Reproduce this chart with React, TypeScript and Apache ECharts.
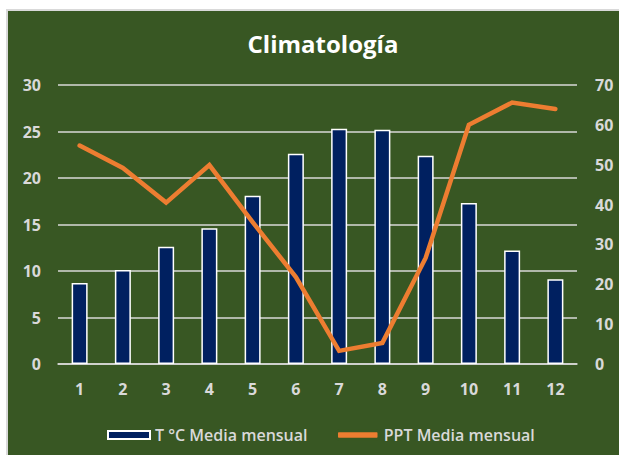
import React, { useEffect, useRef } from "react";
import * as echarts from "echarts";

const months = ["1", "2", "3", "4", "5", "6", "7", "8", "9", "10", "11", "12"];
const tempMean = [8.7, 10.1, 12.6, 14.6, 18.1, 22.6, 25.3, 25.2, 22.4, 17.3, 12.2, 9.1];
const pptMean = [54.8, 49.2, 40.5, 49.9, 35.6, 21.8, 3.3, 5.3, 26.6, 60.0, 65.6, 64.0];
const seriesNames = ["T °C Media mensual", "PPT Media mensual"];
const titleText = "Climatología";

const FONT = "'Open Sans', 'Noto Sans', sans-serif";
const LABEL = "#d9d9d9";
const BG = "#385723";

export default function App() {
  const ref = useRef<HTMLDivElement>(null);
  useEffect(() => {
    if (!ref.current) return;
    const chart = echarts.init(ref.current, null, { renderer: "svg" });
    chart.setOption({
      animation: false,
      backgroundColor: "transparent",
      title: {
        text: titleText,
        left: 318,
        textAlign: "center",
        top: 26,
        textStyle: { color: "#ffffff", fontFamily: FONT, fontWeight: "bold", fontSize: 24 },
      },
      grid: { left: 58, right: 42, top: 85, height: 279 },
      legend: {
        top: 422,
        left: 102,
        itemWidth: 42,
        itemHeight: 8,
        itemGap: 28,
        textStyle: { color: LABEL, fontFamily: FONT, fontWeight: 600, fontSize: 16 },
        data: [
          { name: seriesNames[0], icon: "rect" },
          {
            name: seriesNames[1],
            icon: "roundRect",
            itemStyle: { color: "#ED7D31", borderColor: BG, borderWidth: 2.5 },
          },
        ],
      },
      xAxis: {
        type: "category",
        data: months,
        axisLine: { lineStyle: { color: "#d9d9d9", width: 1.5 } },
        axisTick: { show: false },
        axisLabel: { color: LABEL, fontFamily: FONT, fontWeight: "bold", fontSize: 16, margin: 17 },
      },
      yAxis: [
        {
          type: "value",
          min: 0,
          max: 30,
          interval: 5,
          axisLine: { show: false },
          axisTick: { show: false },
          splitLine: { lineStyle: { color: "#d9d9d9", width: 1.5 } },
          axisLabel: { color: LABEL, fontFamily: FONT, fontWeight: "bold", fontSize: 16, margin: 17 },
        },
        {
          type: "value",
          min: 0,
          max: 70,
          interval: 10,
          position: "right",
          axisLine: { show: false },
          axisTick: { show: false },
          splitLine: { show: false },
          axisLabel: { color: LABEL, fontFamily: FONT, fontWeight: "bold", fontSize: 16, margin: 18 },
        },
      ],
      series: [
        {
          name: seriesNames[0],
          type: "bar",
          yAxisIndex: 0,
          data: tempMean,
          barWidth: 16,
          itemStyle: { color: "#002060", borderColor: "#ffffff", borderWidth: 1.5 },
          z: 2,
        },
        {
          name: seriesNames[1],
          type: "line",
          yAxisIndex: 1,
          data: pptMean,
          symbol: "none",
          lineStyle: { color: "#ED7D31", width: 4.5, cap: "round", join: "miter" },
          itemStyle: { color: "#ED7D31" },
          z: 3,
        },
      ],
    });
    return () => chart.dispose();
  }, []);

  return (
    <div style={{ position: "fixed", left: 0, top: 0, width: 619, height: 455, background: "#ffffff", overflow: "hidden" }}>
      <div
        style={{
          position: "absolute",
          left: 6,
          top: 9,
          width: 640,
          height: 470,
          background: BG,
          borderLeft: "2px solid #d9d9d9",
          borderTop: "2px solid #d9d9d9",
        }}
      />
      <div ref={ref} style={{ position: "absolute", left: 0, top: 0, width: 619, height: 455 }} />
    </div>
  );
}
